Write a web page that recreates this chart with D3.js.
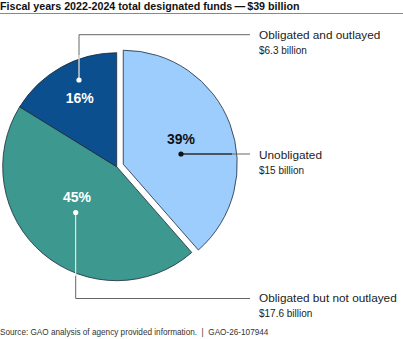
<!DOCTYPE html>
<html>
<head>
<meta charset="utf-8">
<script src="https://cdn.jsdelivr.net/npm/d3@7"></script>
<style>
  body { margin: 0; background: #fff; }
  svg { display: block; font-family: "Liberation Sans", Arial, sans-serif; }
</style>
</head>
<body>
<div id="root"></div>
<script>
// data
const categories = ['Unobligated', 'Obligated but not outlayed', 'Obligated and outlayed'];
const amounts = [15, 17.6, 6.3];
const amountLabels = ['$15 billion', '$17.6 billion', '$6.3 billion'];
const pctLabels = ['39%', '45%', '16%'];
const colors = ['#9dcdfc', '#3d9990', '#0b4f8f'];
const pctColors = ['#111', '#fff', '#fff'];
const title = 'Fiscal years 2022-2024 total designated funds\u2009\u2014\u2009$39 billion';
const source = 'Source: GAO analysis of agency provided information.\u00a0\u00a0|\u00a0\u00a0GAO-26-107944';

const w = 403, h = 339;
const cx = 116.7, cy = 166.7, r = 114;
const explode = 7;

const svg = d3.select('#root').append('svg')
  .attr('width', w)
  .attr('height', h);

// title + rule
svg.append('text')
  .attr('x', 0).attr('y', 9.5)
  .attr('font-size', 10.7).attr('font-weight', 'bold')
  .attr('fill', '#111')
  .text(title);
svg.append('line')
  .attr('x1', 0).attr('x2', w)
  .attr('y1', 13.5).attr('y2', 13.5)
  .attr('stroke', '#888').attr('stroke-width', 1);

const pie = d3.pie().sort(null).value(d => d)(amounts);
const arc = d3.arc().innerRadius(0).outerRadius(r);

const g = svg.append('g').attr('transform', `translate(${cx},${cy})`);

g.selectAll('path')
  .data(pie)
  .enter()
  .append('path')
  .attr('d', arc)
  .attr('transform', (d, i) => {
    if (i !== 0) return null;
    const a = (d.startAngle + d.endAngle) / 2;
    return `translate(${Math.sin(a) * explode},${-Math.cos(a) * explode})`;
  })
  .attr('fill', (d, i) => colors[i])
  .attr('stroke', '#1d2a38')
  .attr('stroke-width', 0.8);

// leader lines + labels (positions)
const callouts = [
  { pct: [181, 139], dot: [181, 154], path: [[181, 154], [250, 154]], text: [259, 159] },
  { pct: [77, 197], dot: [75.7, 212.5], path: [[75.7, 212.5], [75.7, 298.5], [250, 298.5]], text: [259, 302] },
  { pct: [79.7, 98], dot: [79, 80], path: [[79, 80], [79, 34.7], [250, 34.7]], text: [259, 39] }
];

const line = d3.line();
callouts.forEach(c => {
  svg.append('path')
    .attr('d', line(c.path))
    .attr('fill', 'none')
    .attr('stroke', '#666')
    .attr('stroke-width', 1);
});

// parts of the leaders inside the slices, in the label colour
const inner = [
  [[181, 154], [232, 154]],
  [[75.7, 212.5], [75.7, 276]],
  [[79, 80], [79, 55]]
];
inner.forEach((seg, i) => {
  svg.append('path')
    .attr('d', line(seg))
    .attr('fill', 'none')
    .attr('stroke', i === 0 ? '#111' : '#fff')
    .attr('stroke-width', 1);
});

callouts.forEach((c, i) => {
  svg.append('circle')
    .attr('cx', c.dot[0]).attr('cy', c.dot[1]).attr('r', 2.6)
    .attr('fill', pctColors[i]);
  svg.append('text')
    .attr('x', c.pct[0]).attr('y', c.pct[1] + 5)
    .attr('text-anchor', 'middle')
    .attr('font-size', 14).attr('font-weight', 'bold')
    .attr('fill', pctColors[i])
    .text(pctLabels[i]);
  svg.append('text')
    .attr('x', c.text[0]).attr('y', c.text[1])
    .attr('font-size', 11.8)
    .attr('fill', '#222')
    .text(categories[i]);
  svg.append('text')
    .attr('x', c.text[0]).attr('y', c.text[1] + 14.5)
    .attr('font-size', 10)
    .attr('fill', '#222')
    .text(amountLabels[i]);
});

svg.append('text')
  .attr('x', 0).attr('y', 335)
  .attr('font-size', 8.2)
  .attr('fill', '#333')
  .text(source);
</script>
</body>
</html>
